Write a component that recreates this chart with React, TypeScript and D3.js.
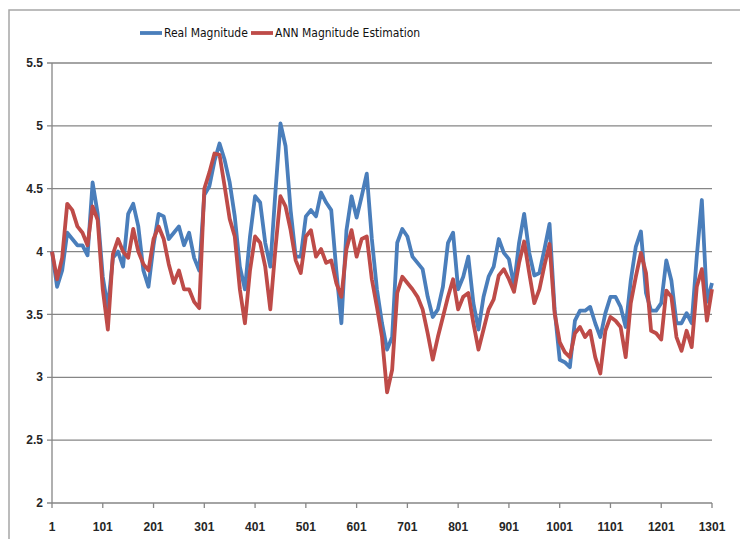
import * as d3 from "d3";

const stepStart = 1;
const stepSize = 10;

const realMagnitude = [
  4.0, 3.72, 3.85, 4.15, 4.1, 4.05, 4.05, 3.97, 4.55, 4.3,
  3.8, 3.55, 3.95, 4.0, 3.88, 4.3, 4.38, 4.2, 3.85, 3.72,
  4.05, 4.3, 4.28, 4.1, 4.15, 4.2, 4.05, 4.15, 3.95, 3.85,
  4.45, 4.52, 4.72, 4.86, 4.73, 4.55, 4.28, 3.88, 3.7, 4.12,
  4.44, 4.39, 4.07, 3.88, 4.47, 5.02, 4.84, 4.33, 3.96, 3.96,
  4.28, 4.33, 4.28, 4.47, 4.39, 4.33, 3.85, 3.43, 4.17, 4.44,
  4.27, 4.44, 4.62, 4.1, 3.7, 3.43, 3.22, 3.32, 4.07, 4.18,
  4.12, 3.96, 3.91, 3.86, 3.64, 3.48, 3.54, 3.72, 4.07, 4.15,
  3.7, 3.8, 3.96, 3.59, 3.38, 3.64, 3.8, 3.88, 4.1, 3.99,
  3.94, 3.73, 4.07, 4.3, 3.99, 3.81, 3.83, 4.02, 4.22, 3.54,
  3.14, 3.12, 3.08, 3.45, 3.53, 3.53, 3.56, 3.43, 3.32, 3.51,
  3.64, 3.64, 3.56, 3.4, 3.77, 4.04, 4.16, 3.67, 3.53, 3.53,
  3.59, 3.93, 3.77, 3.43, 3.43, 3.51, 3.43, 3.96, 4.41, 3.6,
  3.75,
];

const annEstimation = [
  4.0, 3.78, 3.95, 4.38, 4.33, 4.2, 4.15, 4.05, 4.36, 4.25,
  3.7, 3.38, 3.98, 4.1, 4.0, 3.95, 4.18, 4.0, 3.9, 3.85,
  4.1, 4.2, 4.1, 3.9, 3.75, 3.85, 3.7, 3.7, 3.6, 3.55,
  4.5, 4.63, 4.78, 4.77, 4.52, 4.26, 4.12, 3.7, 3.43, 3.85,
  4.12, 4.07, 3.88, 3.54, 4.02, 4.44, 4.36, 4.17, 3.93, 3.83,
  4.12, 4.17, 3.96, 4.02, 3.91, 3.93, 3.75, 3.64, 4.02, 4.17,
  3.96, 4.1, 4.12, 3.78, 3.56, 3.32, 2.88, 3.06, 3.67, 3.8,
  3.75, 3.7, 3.64, 3.54, 3.35, 3.14, 3.32, 3.48, 3.64, 3.78,
  3.54, 3.64, 3.67, 3.43, 3.22, 3.38, 3.54, 3.62, 3.81, 3.86,
  3.78, 3.68, 3.91, 4.08, 3.83, 3.59, 3.7, 3.89, 4.06, 3.51,
  3.28, 3.2, 3.16, 3.35, 3.4, 3.32, 3.37, 3.16, 3.03, 3.37,
  3.48, 3.45, 3.4, 3.16, 3.59, 3.8, 3.99, 3.83, 3.37, 3.35,
  3.3, 3.69, 3.64, 3.32, 3.21, 3.37, 3.24, 3.72, 3.86, 3.45,
  3.7,
];

const xTicks = [1, 101, 201, 301, 401, 501, 601, 701, 801, 901, 1001, 1101, 1201, 1301];
const yTicks = [2, 2.5, 3, 3.5, 4, 4.5, 5, 5.5];

const seriesNames = ["Real Magnitude", "ANN Magnitude  Estimation"];
const seriesColors = ["#4a7ebb", "#be4b48"];

const width = 740;
const height = 539;
const margin = { top: 63, right: 28, bottom: 36, left: 52 };

export default function App() {
  const x = d3
    .scaleLinear()
    .domain([1, 1301])
    .range([margin.left, width - margin.right]);
  const y = d3
    .scaleLinear()
    .domain([2, 5.5])
    .range([height - margin.bottom, margin.top]);

  const line = d3
    .line<number>()
    .x((_, k) => x(stepStart + k * stepSize))
    .y((d) => y(d));

  const series = [realMagnitude, annEstimation];
  const font = "'Liberation Sans Narrow', 'DejaVu Sans Condensed', 'Liberation Sans', sans-serif";
  const tickFont = "'Liberation Sans', sans-serif";

  return (
    <div style={{ position: "fixed", left: 0, top: 0 }}>
      <svg width={width} height={height} style={{ display: "block", background: "#fff" }}>
        <rect x={9} y={10} width={760} height={560} fill="#fff" stroke="#a6a6a6" strokeWidth={1.5} />

        {/* gridlines */}
        {yTicks.map((t) => (
          <g key={t}>
            <line
              x1={margin.left - 5}
              x2={x(1301)}
              y1={y(t)}
              y2={y(t)}
              stroke="#868686"
              strokeWidth={1.3}
            />
            <text
              x={margin.left - 9}
              y={y(t)}
              dy="0.35em"
              textAnchor="end"
              fontFamily={tickFont}
              fontWeight="bold"
              fontSize={12}
              fill="#262626"
            >
              {t}
            </text>
          </g>
        ))}

        {/* axes */}
        <line x1={x(1)} x2={x(1)} y1={y(5.5)} y2={y(2)} stroke="#868686" strokeWidth={1.3} />
        {xTicks.map((t) => (
          <g key={t}>
            <line x1={x(t)} x2={x(t)} y1={y(2)} y2={y(2) + 5} stroke="#868686" strokeWidth={1.3} />
            <text
              x={x(t)}
              y={y(2) + 28}
              textAnchor="middle"
              fontFamily={tickFont}
              fontWeight="bold"
              fontSize={12}
              fill="#262626"
            >
              {t}
            </text>
          </g>
        ))}

        {/* series */}
        {series.map((s, k) => (
          <path
            key={k}
            d={line(s) ?? ""}
            fill="none"
            stroke={seriesColors[k]}
            strokeWidth={3.8}
            strokeLinejoin="round"
          />
        ))}

        {/* legend */}
        <line x1={140} x2={162} y1={33} y2={33} stroke={seriesColors[0]} strokeWidth={3.8} />
        <text x={164} y={33} dy="0.35em" fontFamily={font} fontSize={12} fill="#111">
          {seriesNames[0]}
        </text>
        <line x1={251} x2={273} y1={33} y2={33} stroke={seriesColors[1]} strokeWidth={3.8} />
        <text x={275} y={33} dy="0.35em" fontFamily={font} fontSize={12} fill="#111">
          {seriesNames[1]}
        </text>
      </svg>
    </div>
  );
}
